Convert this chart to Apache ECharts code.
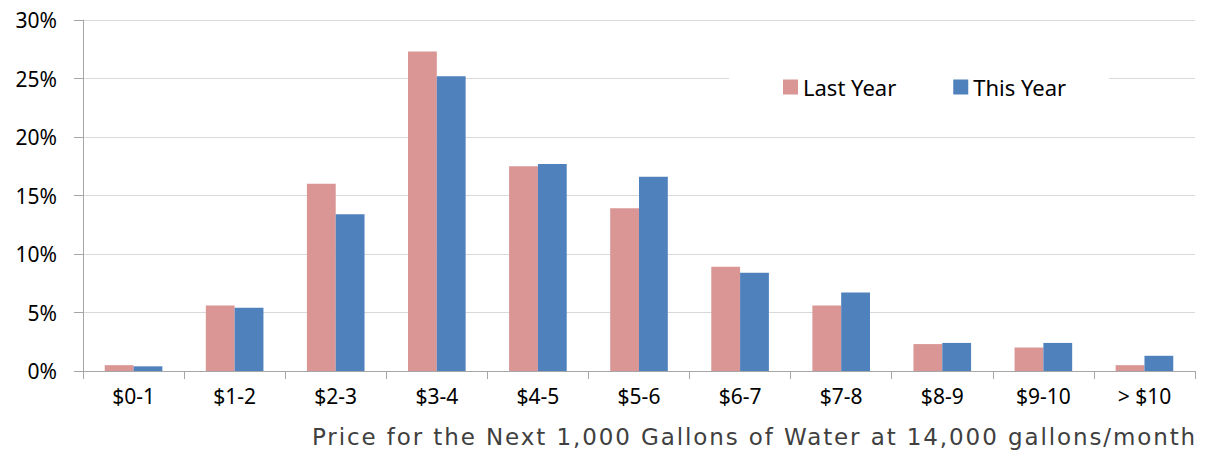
<!DOCTYPE html>
<html>
<head>
<meta charset="utf-8">
<script src="https://cdn.jsdelivr.net/npm/echarts@6/dist/echarts.min.js"></script>
<style>
  html, body { margin: 0; padding: 0; background: #fff; }
  #chart { width: 1206px; height: 453px; }
</style>
</head>
<body>
<div id="chart"></div>
<script>
// Price brackets per 1,000 gallons
const categories = ['$0-1', '$1-2', '$2-3', '$3-4', '$4-5', '$5-6', '$6-7', '$7-8', '$8-9', '$9-10', '> $10'];
// Share of utilities in each bracket (%)
const lastYear = [0.5, 5.6, 16.0, 27.3, 17.5, 13.9, 8.9, 5.6, 2.3, 2.0, 0.5];
const thisYear = [0.4, 5.4, 13.4, 25.2, 17.7, 16.6, 8.4, 6.7, 2.4, 2.4, 1.3];
const seriesNames = ['Last Year', 'This Year'];
const axisTitle = 'Price for the Next 1,000 Gallons of Water at 14,000 gallons/month';

const labelFont = 'Noto Sans';
const chart = echarts.init(document.getElementById('chart'), null, { renderer: 'svg' });

chart.setOption({
  animation: false,
  title: {
    text: axisTitle,
    left: 307,
    bottom: 0,
    textStyle: { fontFamily: 'DejaVu Sans', fontSize: 23, fontWeight: 'normal', color: '#404040' }
  },
  legend: {
    data: seriesNames,
    left: 729,
    top: 62,
    padding: [14, 43, 14, 54],
    backgroundColor: '#ffffff',
    itemWidth: 15,
    itemHeight: 15,
    itemGap: 57,
    textStyle: { fontFamily: labelFont, fontSize: 22, color: '#000' },
    icon: 'rect'
  },
  grid: { left: 83, right: 11, top: 20, bottom: 82, containLabel: false },
  xAxis: {
    type: 'category',
    data: categories,
    axisLine: { lineStyle: { color: '#a6a6a6', width: 1 } },
    axisTick: { show: true, length: 8, lineStyle: { color: '#a6a6a6' } },
    axisLabel: { fontFamily: labelFont, fontSize: 21, color: '#000', margin: 14 }
  },
  yAxis: {
    type: 'value',
    min: 0,
    max: 30,
    interval: 5,
    axisLine: { show: true, lineStyle: { color: '#a6a6a6', width: 1 } },
    axisTick: { show: true, length: 9, lineStyle: { color: '#a6a6a6' } },
    axisLabel: { formatter: '{value}%', fontFamily: labelFont, fontSize: 21, color: '#000', margin: 26 },
    splitLine: { lineStyle: { color: '#d9d9d9', width: 1 } }
  },
  series: [
    {
      name: seriesNames[0],
      type: 'bar',
      data: lastYear,
      barGap: '0%',
      barCategoryGap: '43%',
      itemStyle: { color: '#d99694' },
      z: 2
    },
    {
      name: seriesNames[1],
      type: 'bar',
      data: thisYear,
      itemStyle: { color: '#4f81bd' },
      z: 2
    }
  ]
});

// Open up the tracking of the axis title text
document.querySelectorAll('#chart svg text').forEach(function (el) {
  if (el.textContent === axisTitle) {
    el.style.letterSpacing = '1.9px';
  }
});
</script>
</body>
</html>
